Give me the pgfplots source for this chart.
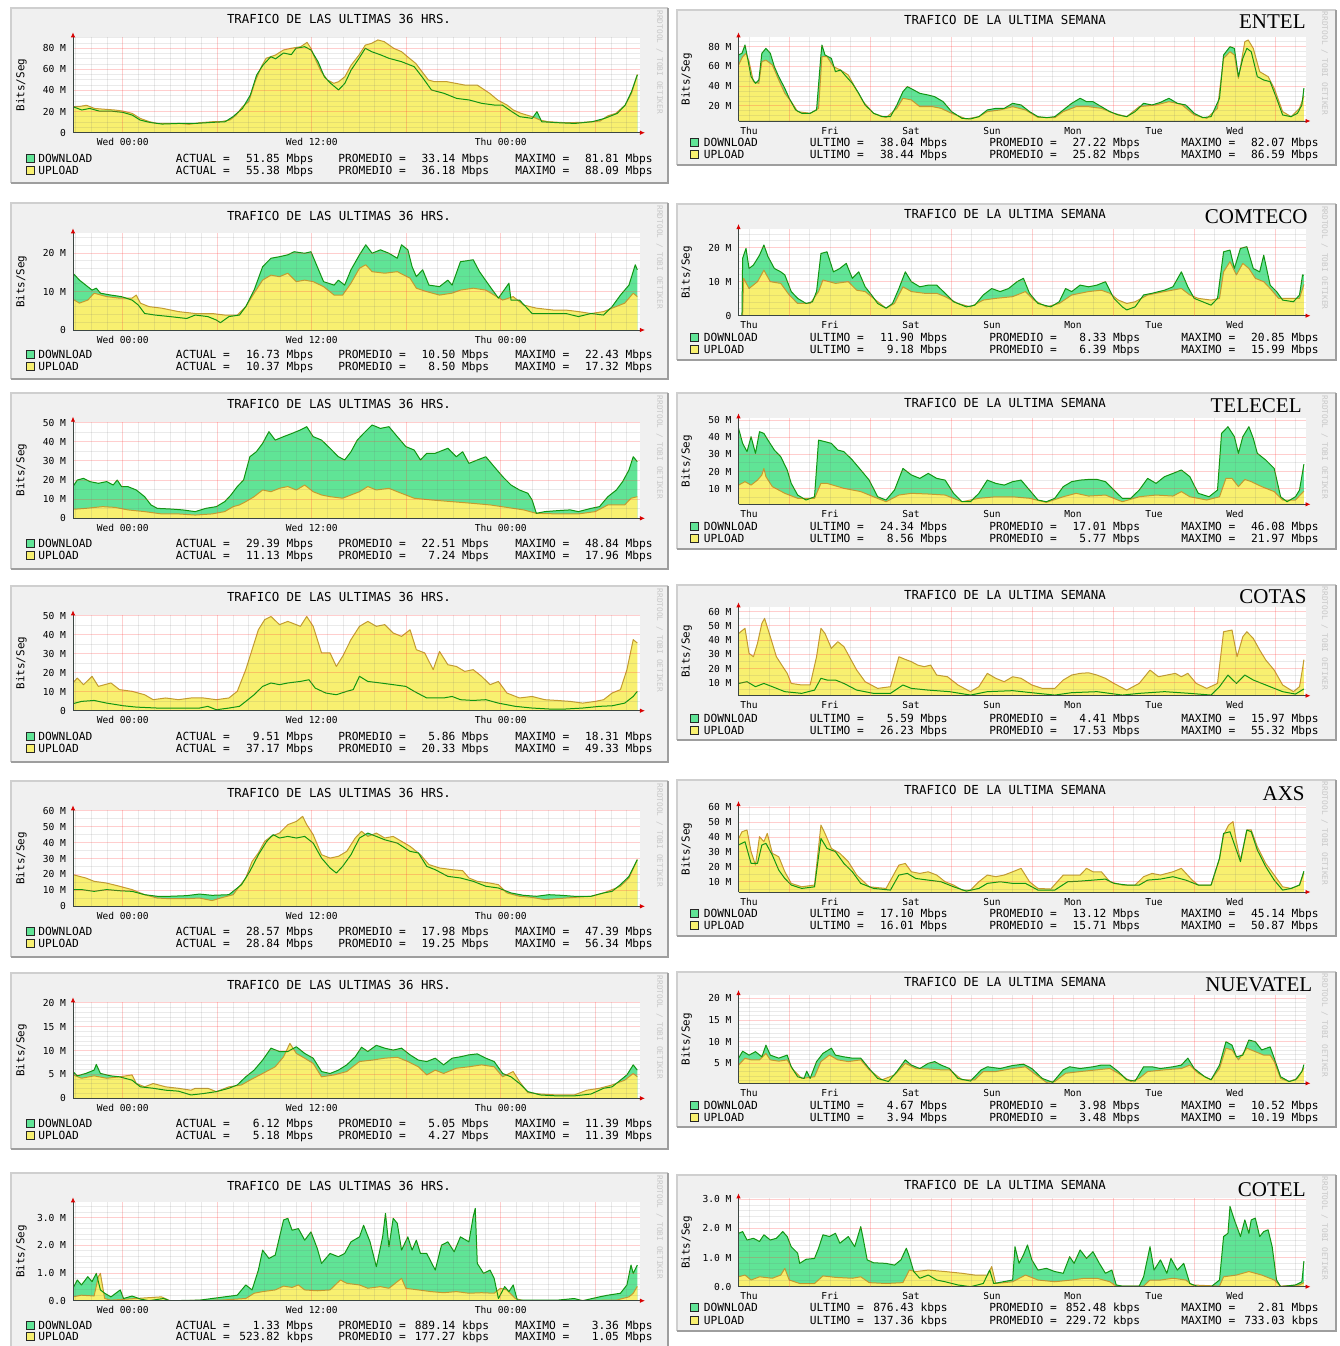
\documentclass[border=0pt]{standalone}
\usepackage{fontspec}
\usepackage{pgfplots}
\usepackage{pgfplotstable}
\pgfplotsset{compat=1.18}
\usetikzlibrary{arrows.meta}
\newfontfamily\mono{DejaVu Sans Mono}
\newfontfamily\tnr{Liberation Serif}
\newcommand\ftitle{\mono\fontsize{6.2}{7}\selectfont}
\newcommand\fleg{\mono\fontsize{5.6}{6.5}\selectfont}
\newcommand\ftick{\mono\fontsize{4.8}{5.5}\selectfont}
\newcommand\fylab{\mono\fontsize{5.45}{6}\selectfont}
\newcommand\fwm{\mono\fontsize{3.9}{4.5}\selectfont}
\newcommand\fname{\tnr\fontsize{10.5}{12}\selectfont}
\definecolor{dlarea}{RGB}{96,228,150}
\definecolor{dlline}{RGB}{16,150,16}
\definecolor{ularea}{RGB}{248,240,112}
\definecolor{ulline}{RGB}{196,156,48}
\definecolor{back}{RGB}{240,240,240}
\definecolor{shadea}{RGB}{207,207,207}
\definecolor{shadeb}{RGB}{158,158,158}
\definecolor{axiscol}{RGB}{60,70,66}
\definecolor{mgrid}{RGB}{255,60,60}
\definecolor{sgrid}{RGB}{110,110,110}
\definecolor{wmgray}{RGB}{200,200,200}

\pgfplotsset{
  rrd/.style={
    scale only axis, anchor=south west, width=283.5pt,
    axis lines=left, axis on top,
    axis line style={draw=axiscol, line width=0.4pt, shorten >=-2.5pt, -{Latex[length=2.5pt,width=2.2pt,color=red!85!black]}},
    axis background/.style={fill=white},
    enlargelimits=false,
    major tick length=0pt, minor tick length=0pt,
    grid=both,
    minor grid style={draw=sgrid, line width=0.5pt, opacity=0.14},
    major grid style={draw=mgrid, line width=0.5pt, opacity=0.25},
    tick label style={font=\ftick, inner sep=0pt, text height=3.5pt, text depth=0pt},
    yticklabel style={anchor=east, xshift=-3.3pt},
    xticklabel style={anchor=north, yshift=-2.8pt},
  },
  rrdL/.style={rrd, xmin=-3.16, xmax=32.84,
    xtick={0,6,12,18,24,30}, xticklabels={Wed 00:00,,Wed 12:00,,Thu 00:00,},
    minor xtick={-3,-2,-1,1,2,3,4,5,7,8,9,10,11,13,14,15,16,17,19,20,21,22,23,25,26,27,28,29,31,32}},
  rrdR/.style={rrd, xmin=8.875, xmax=176.875,
    xtick={12,36,60,84,108,132,156}, xticklabels={Thu,Fri,Sat,Sun,Mon,Tue,Wed},
    xmajorgrids=false,
    minor xtick={12,18,30,36,42,54,60,66,78,84,90,102,108,114,126,132,138,150,156,162,174},
    extra x ticks={24,48,72,96,120,144,168}, extra x tick labels={},
    extra x tick style={grid=major}},
}
\newcommand\rrdplot[2]{%
  \addplot[draw=none, fill=dlarea] table {#1} \closedcycle;
  \addplot[draw=none, fill=ularea] table {#2} \closedcycle;
  \addplot[ulline, line width=0.5pt, line join=round] table {#2};
  \addplot[dlline, line width=0.5pt, line join=round] table {#1};}

\tikzset{
  lg/.style={font=\fleg, inner sep=0pt, text height=4.08pt, text depth=0pt},
  lsq/.style={draw=black!85, line width=0.4pt, minimum size=4pt, inner sep=0pt},
}
\newcommand\legL[6]{%
  \node[lsq, fill=#2] at (30,#1) {};
  \node[lg, anchor=west] at (38,#1) {#3};
  \node[lg, anchor=west] at (175.5,#1) {ACTUAL =};
  \node[lg, anchor=east] at (314,#1) {#4};
  \node[lg, anchor=west] at (338,#1) {PROMEDIO =};
  \node[lg, anchor=east] at (489.5,#1) {#5};
  \node[lg, anchor=west] at (515,#1) {MAXIMO =};
  \node[lg, anchor=east] at (653,#1) {#6};}
\newcommand\legR[6]{%
  \node[lsq, fill=#2] at (694,#1) {};
  \node[lg, anchor=west] at (703.5,#1) {#3};
  \node[lg, anchor=west] at (809.5,#1) {ULTIMO =};
  \node[lg, anchor=east] at (948,#1) {#4};
  \node[lg, anchor=west] at (989,#1) {PROMEDIO =};
  \node[lg, anchor=east] at (1140.5,#1) {#5};
  \node[lg, anchor=west] at (1181,#1) {MAXIMO =};
  \node[lg, anchor=east] at (1319,#1) {#6};}
\newcommand\ttlL[1]{\node[font=\ftitle, inner sep=0pt, text height=4.52pt, text depth=0pt] at (339,#1) {TRAFICO DE LAS ULTIMAS 36 HRS.};}
\newcommand\ttlR[1]{\node[font=\ftitle, inner sep=0pt, text height=4.52pt, text depth=0pt] at (1005,#1) {TRAFICO DE LA ULTIMA SEMANA};}
\newcommand\ylab[2]{\node[font=\fylab, rotate=90, inner sep=0pt, text height=3.97pt, text depth=0pt] at (#1,#2) {Bits/Seg};}
\newcommand\wm[2]{\node[font=\fwm, text=wmgray, rotate=-90, anchor=west, inner sep=0pt, text height=2.84pt, text depth=0pt] at (#1,#2) {RRDTOOL / TOBI OETIKER};}
\newcommand\cname[3]{\node[font=\fname, anchor=east, inner sep=0pt, text height=6.95pt, text depth=0pt] at (#1,#2) {#3};}
\newcommand\panel[4]{%
  \fill[back] (#1,#2) rectangle (#3,#4);
  \draw[shadea, line width=1pt] (#1+0.5,#4-0.5) -- (#1+0.5,#2+0.5) -- (#3-0.5,#2+0.5);
  \draw[shadeb, line width=1pt] (#1+0.5,#4-0.5) -- (#3-0.5,#4-0.5) -- (#3-0.5,#2+0.5);}

% ---------------- data: hours, Mbit/s ----------------
\pgfplotstableread{
h v
-3.16 24.7
-2.6 21.5
-2.1 23
-1.5 20.5
-0.75 20.5
0 19.3
0.6 16.7
1.1 12
1.7 9.8
2.5 8.2
3.6 8.8
4.6 8.8
5.7 9.8
6.5 10.4
7 15.2
7.6 23
8.1 35.7
8.5 54.7
8.9 64
9.4 72
9.7 70
10.2 75.5
10.7 74
11 80
11.55 81.5
11.95 78.4
12.4 67.3
12.8 53
13.2 46.8
13.7 40.5
14.1 46.8
14.5 59.4
15 70.5
15.4 80
15.8 76.8
16.4 73.6
16.9 70.5
17.7 67.3
18.5 62.6
19 53
19.6 40.5
20.4 37.3
21.2 32.5
22 31
22.8 27.8
23.6 26.2
24.1 26.2
24.7 20
25.2 15.2
26 13.6
26.3 20
26.6 10.4
27.6 9.5
28.7 8.8
29.8 10.4
30.6 13.6
31.4 18.3
31.9 26.2
32.3 38.9
32.67 54.7
}\LaD
\pgfplotstableread{
h v
-3.16 24.7
-2.7 25
-2.3 26
-1.8 23
-1.3 22.4
-0.5 21.5
0 20.5
0.6 18.3
1.1 13.6
1.7 10.4
2.2 8.8
3 8.8
3.6 8.8
4.2 7.9
4.9 9.5
5.7 10.4
6.2 10.4
6.8 12
7.2 16.7
7.6 24.7
8 29.4
8.4 48.3
8.8 62.6
9.1 70.5
9.7 73.6
10.2 78.4
10.7 80
11.3 81.5
11.7 85.6
11.95 80
12.2 70.5
12.6 57.8
13 50
13.4 46.8
13.7 48.3
14.1 53
14.5 64
15 73.6
15.4 83
15.8 84.7
16.2 87.9
16.6 86.3
17.2 80
17.7 76.8
18.2 70.5
18.6 65.7
19 57.8
19.4 50
19.8 48.3
20.6 48.3
21.7 45.2
22.5 45.2
23.3 37.3
23.8 31
24.4 26.2
24.8 21.5
25.3 18.3
26 15.2
26.5 12
27 10.4
28.1 9.5
29.2 9.8
30.3 11
30.8 16
31.3 18.3
31.9 26.2
32.3 37.3
32.67 55.3
}\LaU
\pgfplotstableread{
h v
-3.16 14.8
-2.75 13
-2.35 11.7
-1.95 10.4
-1.68 10.9
-1.42 9.6
-0.75 9.1
-0.08 8.7
0.59 7.8
0.99 6.5
1.39 4.3
2.06 3.9
2.99 3.5
4.06 3
4.6 3.9
5.4 3.5
5.94 2.6
6.2 1.9
6.74 3.5
7.41 3.9
7.81 6.1
8.34 10.4
8.88 16.5
9.41 18.7
9.95 19.1
10.48 19.6
10.88 20.4
11.55 20
11.95 20.4
12.35 16.5
12.75 12.6
13.42 11.7
13.69 13
14.09 11.7
14.49 15.7
15.03 19.6
15.43 22.2
15.83 20
16.36 20.9
16.9 20
17.43 18.7
17.7 22.2
18.1 20.9
18.37 16.5
18.64 13.9
19.04 15.7
19.44 11.7
20.11 11.3
20.64 13
20.91 11.7
21.44 17.8
22.25 18.3
22.65 15.2
23.32 11.3
23.85 8.3
24.52 12.2
24.65 7.8
25.19 7.8
25.99 4.3
27.06 4.3
28.13 4.3
28.93 3.5
29.73 4.3
30.53 3.9
31.07 6.1
31.6 9.1
32.14 11.7
32.54 17
32.67 15.7
}\LbD
\pgfplotstableread{
h v
-3.16 8
-2.75 7
-2.22 7.8
-1.82 9.6
-1.02 8.7
-0.21 8.3
0.59 8.3
0.86 9.1
1.12 7
1.66 6.1
2.46 5.7
3.53 4.8
4.6 4.3
5.67 4.3
6.47 3.9
7.27 3.9
7.81 6.1
8.34 9.6
8.88 13
9.41 14.3
9.95 13.9
10.48 14.8
11.02 12.6
11.55 13
12.09 12.6
12.75 11.3
13.42 9.1
13.96 9.1
14.49 12.2
15.03 16.1
15.43 17
15.83 15.2
16.63 14.8
17.43 15.2
18.24 13.5
18.64 10.9
19.3 10
20.11 9.1
20.91 9.6
21.44 10.4
22.25 10.9
23.05 10.4
23.58 9.1
24.12 7.8
24.79 8.7
25.45 6.5
26.26 5.7
27.33 5.2
28.13 5.2
28.93 4.8
29.73 4.3
30.53 4.8
31.07 5.7
31.87 7
32.41 9.6
32.67 8.7
}\LbU
\pgfplotstableread{
h v
-3.16 16.6
-2.89 20
-2.49 20.9
-2.09 19.2
-1.55 18.3
-1.02 19.2
-0.61 17.4
-0.35 20
-0.08 16.6
0.32 16.6
0.86 14.8
1.39 11.3
1.79 7
2.19 5.2
2.99 4.9
3.8 4.4
4.6 3.5
5.27 5.2
5.94 6.1
6.47 8.7
6.87 12.2
7.27 16.6
7.67 20
8.07 32.2
8.48 34.8
8.88 39.2
9.28 45.3
9.68 40.9
10.21 42.7
10.75 44.4
11.28 46.2
11.68 47.9
12.09 42.7
12.62 40.9
13.16 36.6
13.69 32.2
14.09 30.5
14.49 34.8
14.89 40.9
15.29 44.4
15.83 48.8
16.36 47
16.9 47.9
17.43 42.7
17.97 37.5
18.5 35.7
18.9 30.5
19.3 34
19.84 34
20.64 36.6
21.18 32.2
21.58 34.8
21.98 28.7
22.51 30.5
23.05 32.2
23.58 27
24.12 21.8
24.65 17.4
25.19 14.8
25.72 13.1
25.99 9.6
26.26 2.6
26.79 3.5
27.59 4
28.4 4.4
28.93 3.5
29.73 5.2
30.27 6.1
30.8 11.3
31.34 14.8
31.74 19.2
32.14 25.3
32.41 32.2
32.67 29.6
}\LcD
\pgfplotstableread{
h v
-3.16 4.7
-2.35 5.2
-1.28 6.1
-0.48 5.7
0.32 4.4
1.39 3.5
2.46 2.3
3.53 2.3
4.6 1.7
5.67 2.3
6.47 3.5
7.01 6.1
7.41 7
7.81 8.7
8.34 11.3
8.88 14.8
9.41 13.9
9.95 15.7
10.48 16.6
11.02 14.8
11.55 17.4
12.09 13.9
12.62 12.2
13.16 11.3
13.96 10.5
14.49 12.2
15.03 13.9
15.56 16.6
16.1 14.8
16.9 15.7
17.43 13.9
17.97 12.2
18.5 10.5
19.57 9.6
20.91 8.7
22.25 7.8
23.32 7
24.39 5.7
25.45 4.4
26.26 2.6
27.59 2.3
28.93 2.3
30 3.5
30.8 7
31.34 7
31.87 7
32.27 10.5
32.67 11.3
}\LcU
\pgfplotstableread{
h v
-3.16 3.7
-2.62 4.9
-1.82 5.4
-1.02 4
0.05 2.6
0.86 1.9
2.19 1.4
3.53 1.4
4.87 1.4
5.4 2.3
5.94 0.5
6.74 1.4
7.41 2.3
7.81 4.9
8.34 8.4
8.88 12.8
9.41 14.6
9.95 13.7
10.48 14.6
11.28 15.4
11.82 16.3
12.22 11.9
12.89 9.3
13.56 8.4
14.22 10.2
14.63 11.1
15.03 18.1
15.56 15.4
16.36 14.6
17.17 13.7
17.97 12.8
18.5 10.2
19.3 6.7
20.37 6.7
20.91 7.5
21.44 5.8
22.25 5.4
23.05 5.8
23.85 4
24.92 2.3
25.99 1.4
27.06 0.9
28.13 0.9
29.2 1.4
30.27 2.3
31.07 2.6
31.87 4
32.41 7.5
32.67 10.2
}\LdD
\pgfplotstableread{
h v
-3.16 14.6
-2.89 17.2
-2.49 13.7
-1.95 18.1
-1.55 12.8
-0.75 14.6
-0.21 11.1
0.59 10.2
1.39 8.4
1.93 5.8
2.73 6.7
3.53 5.8
4.33 6.7
5.13 6.7
5.94 5.8
6.74 6.7
7.27 10.2
7.81 21.6
8.21 32.1
8.61 42.6
9.01 47.9
9.41 49.6
9.95 45.3
10.48 47
11.28 44.4
11.68 49.6
12.09 44.4
12.62 30.4
13.16 30.4
13.56 23.3
13.96 28.6
14.49 37.4
15.03 44.4
15.56 47
16.1 44.4
16.63 45.3
17.17 40.9
17.7 39.1
18.24 42.6
18.64 32.1
19.17 30.4
19.71 21.6
20.11 31.2
20.64 24.2
21.18 23.3
21.71 20.7
22.25 21.6
22.78 18.1
23.32 13.7
23.85 15.4
24.39 9.3
25.19 6.7
25.99 7.5
26.79 5.8
27.59 5.4
28.4 4.9
29.2 4
30 4.9
30.53 5.8
31.07 9.3
31.6 11.1
32.01 21.6
32.41 37.4
32.67 35.6
}\LdU
\pgfplotstableread{
h v
-3.16 10.5
-2.62 10.5
-1.82 9.4
-1.02 10.5
-0.21 9.8
0.59 9.4
1.39 7.3
2.19 6.3
2.99 6.3
4.06 6.7
4.87 7.7
5.67 6.9
6.74 7.3
7.54 13.6
8.07 22
8.61 32.4
9.14 40.8
9.55 45
9.95 42.9
10.48 43.9
11.02 42.9
11.55 43.9
12.09 39.7
12.62 30.3
13.16 24.1
13.56 20.9
13.96 25.1
14.49 32.4
15.03 42.9
15.56 46
16.1 43.9
16.63 41.8
17.43 39.7
18.24 34.5
18.77 33.5
19.3 25.1
19.84 23
20.64 18.8
21.44 17.8
22.25 15.7
23.05 12.6
23.85 11.5
24.65 8.4
25.45 6.9
26.26 6.3
27.06 7.3
27.86 6.9
28.66 6.3
29.73 6.3
30.53 8.4
31.07 9.4
31.6 13.6
32.14 18.8
32.67 29.3
}\LeD
\pgfplotstableread{
h v
-3.16 19.9
-2.75 18.8
-2.35 17.8
-1.82 15.7
-1.02 14.6
-0.21 12.6
0.59 10.5
1.39 7.3
2.19 5.2
2.99 4.8
4.06 4.8
4.87 5.2
5.67 3.6
6.2 5.2
7.01 7.3
7.41 12.6
7.81 17.8
8.21 28.2
8.61 33.5
9.01 40.8
9.41 43.9
9.95 46
10.48 51.3
11.02 53.3
11.42 56.5
11.68 51.3
12.09 45
12.62 32.4
13.16 30.3
13.69 31.4
14.22 34.5
14.76 42.9
15.16 47.1
15.56 43.9
16.1 46
16.63 42.9
17.17 43.9
17.7 40.8
18.24 37.7
18.9 32.4
19.44 26.2
20.11 24.1
20.91 23
21.58 22.4
21.98 17.8
22.51 15.7
23.32 14.6
23.85 13.6
24.39 8.4
25.19 6.3
25.99 5.6
26.79 4.2
27.59 4.8
28.66 5.6
29.73 6.3
30.53 8.4
31.07 10.5
31.6 12.6
32.14 17.8
32.67 29.3
}\LeU
\pgfplotstableread{
h v
-3.16 5.6
-2.89 4.7
-2.35 5.2
-1.82 5.9
-1.68 7.1
-1.42 5.2
-0.75 4.7
-0.21 4.5
0.59 3.8
1.12 2.4
1.93 2.1
2.73 1.7
3.53 1.5
4.33 0.7
5.13 1
5.94 1.4
6.74 2.1
7.27 2.8
7.81 4.5
8.34 5.9
8.88 8
9.41 10.5
9.95 9.8
10.48 9.8
11.02 10.8
11.55 9.4
12.09 8.4
12.62 5.6
13.16 5.2
13.69 5.9
14.22 7
14.76 8.7
15.16 10.7
15.56 9.8
16.1 11.1
16.63 10.5
17.17 10.1
17.7 10.5
18.24 9.1
18.77 8
19.3 7.7
19.84 8.4
20.37 7
20.91 8.4
21.44 8.7
21.98 9.1
22.51 9.3
23.05 8.4
23.58 7.7
24.12 5.2
24.65 4.5
25.19 3.1
25.72 1.4
26.52 0.7
27.59 0.5
28.66 0.5
29.73 0.9
30.53 2.1
31.07 2.4
31.6 3.8
32.01 4.9
32.41 7
32.67 5.9
}\LfD
\pgfplotstableread{
h v
-3.16 4.9
-2.62 4.2
-1.82 4.7
-1.02 4.2
-0.21 4.5
0.59 4.9
0.86 3.1
1.39 2.4
1.93 3.1
2.73 2.4
3.53 2.1
4.33 1.7
4.6 2.1
5.4 2.1
5.94 1.4
6.74 2.4
7.54 2.8
8.07 3.8
8.88 5.2
9.68 6.6
10.21 8.7
10.61 11.5
11.02 9.4
11.55 8.4
12.09 7.3
12.62 4.5
13.42 4.9
14.22 5.6
15.03 7.7
15.83 8
16.63 8.4
17.43 8.6
18.1 7.7
18.77 6.6
19.3 4.9
19.84 5.9
20.37 5.2
21.18 6.3
21.98 6.6
22.78 7
23.58 6.6
24.12 4.5
24.79 5.6
25.19 3.5
25.72 1.2
26.52 0.9
27.59 0.7
28.66 0.7
29.47 1.7
30.27 2.1
31.07 2.8
31.87 3.8
32.41 5.2
32.67 4.5
}\LfU
\pgfplotstableread{
h v
-3.16 0.45
-2.89 0.75
-2.62 0.57
-2.22 0.87
-1.95 0.69
-1.68 0.99
-1.42 0.39
-1.15 0.27
-0.75 0.14
-0.16 0.39
0.05 0.08
0.59 0.17
1.12 0.06
1.66 0
2.59 0.08
2.99 0
4.87 0.02
5.67 0.08
6.47 0.14
7.27 0.2
7.81 0.57
8.21 0.39
8.61 1.11
8.88 1.83
9.28 1.53
9.68 1.65
10.21 2.92
10.48 2.98
10.75 2.55
11.15 2.61
11.55 2.19
11.95 2.49
12.35 1.89
12.62 1.35
13.16 1.71
13.69 1.59
14.09 1.71
14.49 2.13
15.03 2.31
15.29 2.73
15.7 2.13
16.1 1.23
16.5 2.31
16.68 3.16
16.9 1.95
17.17 2.98
17.43 2.8
17.7 1.83
18.1 2.31
18.37 1.83
18.64 2.19
18.9 1.71
19.3 1.71
19.84 1.11
20.24 2.01
20.64 2.13
21.04 1.77
21.44 2.31
21.98 2.13
22.25 3.04
22.38 3.34
22.51 1.35
22.91 0.99
23.32 1.11
23.58 0.81
23.85 0.08
24.25 0.51
24.52 0.33
24.79 0.57
25.05 0.02
27.59 0.02
28.66 0.08
29.2 0
30.27 0.14
30.8 0.2
31.6 0.27
32.01 0.57
32.27 1.29
32.41 0.99
32.67 1.29
}\LgD
\pgfplotstableread{
h v
-3.16 0.14
-2.62 0.2
-1.82 0.17
-1.55 0.87
-1.42 0.99
-1.15 0.08
-0.75 0.02
2.46 0.14
2.99 0
6.2 0.02
7.81 0.08
8.34 0.27
8.88 0.33
9.68 0.39
10.21 0.53
10.75 0.48
11.15 0.57
11.55 0.39
12.35 0.36
13.16 0.39
13.82 0.75
14.22 0.63
15.03 0.57
15.56 0.45
16.36 0.51
16.9 0.45
17.7 0.81
17.97 0.45
18.77 0.39
19.57 0.33
20.37 0.29
21.18 0.33
21.98 0.27
22.78 0.29
23.58 0.27
23.98 0.45
24.39 0.39
24.92 0.08
25.45 0
31.34 0.02
32.14 0.14
32.41 0.27
32.67 0.52
}\LgU
% ---- right column (hours since Thu 00:00) ----
\pgfplotstableread{
h v
8.9 71.6
9.9 73.3
10.8 81.7
11.4 71.6
12.6 49.7
13.9 42.9
14.9 46.3
15.8 73.3
17 78.3
18.3 73.3
19.5 59.8
20.8 49.7
22.6 37.9
23.9 27.8
25.8 16
27.6 12.6
30.1 12.6
32 16
33.3 71.6
33.6 81.7
34.5 71.6
36.4 68.2
37.6 54.7
39.1 56.4
40.8 49.7
42.6 42.9
44.5 32.8
46.4 21
48.9 12.6
51.4 9.2
53.9 9.2
55.8 21
57.6 34.5
58.9 39.6
60.8 36.2
62.6 32.8
65.1 31.1
67 29.4
69.5 24.4
72 14.3
75.1 7.5
77.6 6.9
80.1 9.2
82.6 16
85.1 17.6
87.6 17.6
90.1 22.7
92.6 21
95.1 14.3
97.6 9.2
100.1 8.2
102.6 9.2
105.1 16
107.6 22.7
110.1 27.8
112 24.4
113.9 24.4
116.4 19.3
118.9 14.3
121.4 10.9
123.9 9.2
126.4 14.3
128.9 22.7
131.4 21
133.9 23.7
136.4 27.8
138.9 22.7
141.4 21
143.9 12.6
146.4 8.2
148.9 9.2
151.4 27.8
152.6 71.6
154.5 80
155.8 78.3
157 49.7
158.3 68.2
159.5 78.3
160.8 74.9
162.6 49.7
164.5 46.3
166.4 44.6
168.3 27.8
170.1 10.9
172.6 9.2
174.5 12.6
175.8 21
176.4 38
}\RaD
\pgfplotstableread{
h v
8.9 61.5
10.1 69.9
11.1 73.3
12 64.9
13.3 44.6
14.9 42.9
15.8 64.9
17 66.5
18.9 61.5
20.8 46.3
22.6 32.8
24.5 24.4
26.4 14.3
30.1 12.6
32.6 17.6
33.6 69.9
35.1 69.9
37 59.8
39.1 56.4
41.4 51.4
43.3 39.6
45.8 24.4
48.9 12.6
52.6 8.2
55.8 17.6
57.6 27.8
60.1 26.1
62.6 19.3
66.4 19.3
68.9 17.6
72 12.6
76.4 6.9
80.1 9.2
82.6 14.3
86.4 16
90.1 19.3
93.9 16
97.6 8.5
102.6 8.2
105.1 14.3
108.9 19.3
112.6 19.3
116.4 17.6
120.1 12.6
123.9 9.2
127.6 19.3
132.6 21
136.4 24.4
140.1 21.7
143.9 10.9
147.6 7.5
150.8 17.6
152.6 68.2
154.5 74.9
155.8 71.6
157 48
158.9 85.1
159.9 86.8
161.4 78.3
163.3 54.7
165.8 49.7
167.6 37.9
170.1 14.3
172.6 9.2
175.1 17.6
176.4 30
}\RaU
\pgfplotstableread{
h v
8.9 0
9.9 0
10.1 16.9
11.1 19.8
12 13.9
13.3 14.9
15.1 17.8
16.4 20.8
17.6 17.4
19.5 13.9
21.4 12.9
22.6 12
24.5 7.1
26.4 5.1
28.9 3.6
30.8 4.1
32 7.1
33.3 18.3
35.1 18.8
37 12.9
38.9 13.9
40.8 15.4
42.6 11
44.5 12.9
46.4 8.5
48.3 6.1
50.1 3.6
52.6 2.2
54.5 3.6
56.4 8
58.3 12.9
60.1 10
62.6 8.5
65.1 9
67.6 9
70.1 6.6
72.6 4.1
76.4 2.6
78.9 3.1
81.4 6.1
83.9 8
86.4 7.1
88.9 8
91.4 10
93.3 11
95.1 6.6
97.6 3.6
101.4 2.6
103.9 4.1
105.8 8
107.6 7.1
110.1 9
112.6 8.5
115.1 9
117.6 10
120.1 5.1
122.6 2.6
123.9 1.7
126.4 2.6
128.9 6.1
131.4 6.6
135.1 7.5
137.6 8.5
140.1 12.9
142 8.5
143.9 5.1
146.4 4.1
148.9 3.1
150.8 5.1
152.6 18.8
154.5 19.3
155.8 13.9
157.6 19.8
159.5 20.3
161.4 13.9
163.3 12.9
164.5 17.8
166.4 9
168.3 7.1
170.1 4.6
173.3 4.1
175.1 6.1
176 12
176.4 11.9
}\RbD
\pgfplotstableread{
h v
8.9 0
10.1 0
10.4 11
12 8
14.5 10
16.4 13.4
18.3 10
21.4 9.5
23.9 6.1
26.4 3.6
30.1 3.6
32.6 7.1
33.9 10.5
37.6 9.5
41.4 10
43.9 7.5
46.4 7.1
48.9 5.1
52.6 2.2
55.1 3.6
57.6 8.5
60.1 7.1
63.9 6.6
67.6 6.6
70.1 5.6
73.9 3.6
77.6 2.6
81.4 4.6
85.1 5.1
90.1 5.6
93.9 7.1
96.4 4.6
100.1 2.6
103.9 3.6
107.6 6.1
112.6 7.1
116.4 7.5
118.9 6.6
121.4 4.6
123.9 3.6
126.4 4.1
130.1 6.1
135.1 7.1
140.1 8
142.6 6.1
145.1 5.1
148.9 4.6
151.4 5.1
152.6 12.9
154.5 15.9
156.4 12
158.3 15.4
160.1 13.9
162 11
164.5 10
166.4 8
168.9 5.1
172.6 5.1
175.1 5.1
176.4 9.2
}\RbU
\pgfplotstableread{
h v
8.9 45.1
10.1 36.4
11.4 31.6
12.6 40.3
13.9 30.6
15.1 43.2
16.4 42.2
17.6 38.3
19.5 32.5
21.4 28.6
23.3 20.9
24.5 13.1
26.4 6.3
28.9 3.4
31.4 5.3
32.6 38.3
34.5 37.4
36.4 36.4
38.3 32.5
40.1 31.6
42.6 26.7
45.1 20.9
47.6 15
50.1 5.3
52.6 3.4
55.1 9.2
57.6 21.8
60.1 18
62.6 16
65.1 18.9
67.6 16
70.1 15
72.6 7.3
75.1 2.4
77.6 2.4
80.1 7.3
82.6 15
85.1 13.1
87.6 12.1
90.1 14.1
92.6 15
95.1 9.2
97.6 3.4
100.1 2.4
102.6 4.4
105.1 11.2
107.6 14.1
110.1 15
112.6 15.4
115.1 15.4
117.6 14.1
120.1 9.2
122.6 4.4
125.1 4.4
127.6 9.2
130.1 16
132.6 13.1
135.1 17
137.6 18.9
140.1 20.9
142.6 17
145.1 7.3
148.3 5.3
150.8 9.2
152 42.2
153.9 46.1
155.8 40.3
157 30.6
158.3 40.3
160.1 46.1
161.4 39.3
162.6 30.6
165.1 26.7
167.6 21.8
169.5 5.3
171.4 2.4
173.9 5.3
175.1 9.2
176.4 24.3
}\RcD
\pgfplotstableread{
h v
8.9 12.1
10.8 14.1
12.6 12.1
14.5 15
15.8 18
16.4 21.8
17 17
18.9 11.2
22.6 7.3
26.4 4.4
31.4 4.4
33.3 13.1
35.1 13.1
40.1 10.2
45.1 8.3
48.9 5.3
52.6 2.4
56.4 6.3
60.1 7.3
65.1 6.9
70.1 6.3
75.1 2.4
80.1 4.4
85.1 5.3
90.1 5.3
95.1 4.4
100.1 2
105.1 5.3
108.9 7.3
112.6 5.7
117.6 6.3
122.6 2.4
127.6 5.3
132.6 6.3
137.6 5.7
140.1 8.3
142.6 5.3
147.6 3.4
151.4 5.3
153.3 16
155.1 16
157 11.2
158.9 15.4
160.8 14.1
163.9 11.2
167.6 8.3
170.1 3.4
173.9 3.4
176.4 8.6
}\RcU
\pgfplotstableread{
h v
8.9 9.5
11.4 10.7
13.9 7.2
16.4 9.5
18.9 7.2
22.6 3.7
27.6 2.5
31.4 4.8
33.3 13.1
35.1 11.9
37.6 11.9
40.1 9.5
43.9 4.8
48.9 2.5
53.9 2.5
57.6 8.4
60.1 6
65.1 4.8
71.4 3.7
77.6 1.3
82.6 3.7
90.1 4.4
97.6 2.5
102.6 1.3
107.6 3
115.1 3.7
122.6 1.3
127.6 2.5
135.1 3.7
142.6 2.5
148.9 1.3
151.4 7.2
153.9 15.4
156.4 9.5
158.9 15.4
161.4 11.9
165.1 8.4
170.1 3.7
173.9 2
176.4 5.6
}\RdD
\pgfplotstableread{
h v
8.9 44.7
10.8 48.3
12 30.7
13.3 28.3
14.5 37.7
15.8 51.8
16.6 55.3
18.3 42.4
20.1 28.3
22 21.3
23.3 16.6
24.5 9.5
27.6 8.4
30.1 8.4
32 28.3
33.3 48.3
34.5 44.7
36.4 34.2
38.3 38.9
40.1 35.4
42 27.1
43.9 18.9
46.4 10.7
50.1 6
53.9 7.2
56.4 28.3
58.3 26.4
60.1 24.8
62 22.4
63.9 21.3
65.8 22.4
67.6 15.4
70.8 14.2
73.9 8.4
77.6 3.7
80.1 7.2
82.6 16.6
85.1 13.1
87.6 10.7
90.1 14.2
92.6 13.1
95.8 8.4
98.9 6
102.6 6
105.1 11.9
107.6 15.4
110.1 16.6
112.6 17
115.1 15.4
117.6 13.1
120.1 9.5
123.9 4.8
127.6 9.5
130.8 18.9
133.3 14.2
135.8 15.4
138.3 16.6
140.1 14.2
142 16.6
144.5 9.5
147.6 6
150.8 9.5
152.6 45.9
155.1 47.1
156.6 28.3
158.3 42.4
159.5 45.9
161.4 41.2
163.3 33
165.1 26
167.6 18.9
170.1 8.4
173.3 3.7
175.1 7.2
176 20
176.4 26.2
}\RdU
\pgfplotstableread{
h v
8.9 34.7
10.8 36.9
12.6 22.3
14.5 22.3
15.8 34.7
17 35.8
18.9 27.9
20.8 17.8
22.6 12.2
24.5 7.8
27.6 5.5
31.4 6.6
33.3 39.1
35.1 32.4
37.6 30.2
40.1 22.3
42.6 16.7
45.1 8.9
48.9 5.5
53.9 4.4
56.4 14.5
58.9 15.6
61.4 12.2
65.1 11.1
68.9 10
72.6 6.6
76.4 3.7
80.1 5.5
82.6 8.9
86.4 10
90.1 8.9
93.9 8.9
97.6 4.4
102.6 4.4
106.4 10
110.1 10.4
113.9 11.1
117.6 11.8
120.1 8.9
123.9 7.8
127.6 7.8
130.1 11.1
133.9 11.8
137.6 13.4
141.4 11.1
145.1 7.8
148.9 7.8
151.4 25.7
152.6 42.5
154.5 43.6
156.4 31.3
157.6 23.5
159.5 44.8
160.8 43.6
162.6 31.3
165.1 20.1
167.6 11.1
170.1 4.4
172.6 5.5
175.1 7.8
176.4 17.1
}\ReD
\pgfplotstableread{
h v
8.9 39.1
9.9 43.6
11.4 44.8
12.6 30.2
13.9 21.2
15.1 40.3
16.4 36.9
17.4 42.5
18.9 29.1
20.8 26.8
22.6 16.7
24.5 8.9
27.6 6.6
31.4 7.8
33.3 48.1
34.5 42.5
36.4 32.4
38.9 29.1
41.4 23.5
43.9 14.5
47.6 6.6
52.6 5.5
56.4 21.2
58.3 22.3
60.1 16.7
62.6 15.6
65.1 16.7
67.6 14.5
70.1 10
72.6 7.8
75.1 4.4
77.6 4.4
80.1 10
82.6 14.5
85.1 13.4
87.6 14.5
90.1 16.7
92.6 19
95.1 10
97.6 5.5
101.4 5.1
105.1 14.5
108.3 14.5
110.1 14.5
112 19
113.9 16.7
116.4 16.7
118.9 10
122.6 7.8
126.4 7.8
128.9 13.4
131.4 15.6
133.9 14.5
137.6 16.7
140.1 19
143.3 11.1
145.1 7.8
148.9 7.8
151.4 25.7
152.6 41.4
154.1 48.1
155.4 50.4
156.4 36.9
157.6 24.6
159.5 44.8
160.8 44.8
162.6 33.5
165.1 22.3
167.6 14.5
170.1 6.6
172.6 5.5
175.1 7.8
176.4 16
}\ReU
\pgfplotstableread{
h v
8.9 6.2
10.1 7.8
12 6.9
13.9 7.7
15.8 6.5
17 9.2
18.3 6.9
20.8 6.2
23.3 6.9
24.5 4.2
26.4 1.9
28.3 1.5
29.1 3.2
30.1 1.5
32 5.4
33.9 7.3
36.4 8.5
37.6 6.9
40.1 6.5
42.6 6.2
45.1 6.2
47.6 3.8
50.1 1.5
53.3 0.8
55.8 3.1
58.3 5.8
60.1 4.6
62.6 3.8
65.1 5
67 5.4
68.9 4.6
71.4 3.8
73.9 1.5
77.6 0.9
80.8 3.5
82.6 4.2
86.4 3.8
90.1 4.5
93.3 4.8
95.8 3.8
98.9 1.5
102 0.6
105.1 3.5
107 4.2
110.1 3.8
113.9 4.2
116.4 4.6
118.9 4.6
121.4 3.1
123.9 1.2
126.4 0.9
128.9 4.2
131.4 4.2
133.9 3.8
137.6 4.2
140.1 4.6
142 6.2
143.9 3.8
147 1.9
148.9 1.2
151.4 4.6
153.3 10
155.1 9.2
156.4 6.5
158.3 6.9
160.1 10.4
162 10
163.9 8.1
166.4 8.8
167.6 6.2
169.5 1.9
172 0.8
173.9 1.2
175.8 3.1
176.4 4.7
}\RfD
\pgfplotstableread{
h v
8.9 4.6
10.8 6.2
12.6 5.8
15.1 5.8
17 7.3
18.3 5.8
20.8 5.5
23.3 5.8
25.1 3.5
27.6 1.5
31.4 1.9
33.3 5.4
35.8 6.9
38.3 5.8
41.4 5.4
45.1 5.8
47.6 3.5
51.4 1.2
55.1 2.3
58.3 5
61.4 3.8
65.1 3.7
68.9 3.5
71.4 3.5
75.1 1.2
78.9 1.2
81.4 3.1
85.1 3.1
90.1 3.8
93.9 4.2
96.4 2.7
100.1 0.6
102.6 0.8
105.8 2.7
110.1 3.1
115.1 3.5
118.9 3.8
121.4 2.7
125.1 0.8
127.6 1.5
130.1 3.1
135.1 3.5
140.1 3.8
142.6 4.6
145.1 2.7
148.9 1.2
151.4 3.8
153.3 8.5
155.1 8.1
157 5.8
159.5 8.5
162 7.7
164.5 6.9
166.4 6.9
167.6 5.4
169.5 1.5
172 0.8
174.5 1.5
176.4 3.9
}\RfU
\pgfplotstableread{
h v
8.9 1.83
10.1 1.89
11.4 1.6
13.3 1.66
15.1 1.55
16.4 1.78
18.3 1.6
20.1 1.66
22 1.89
23.3 1.72
24.5 1.37
26.4 1.15
27 0.8
28.9 0.94
31.4 0.97
32.6 1.32
33.9 1.78
35.8 1.72
37.6 1.83
38.9 1.49
41.4 1.72
43.3 1.37
45.1 2.06
45.8 1.66
47 0.92
48.9 0.82
52.6 0.8
55.1 0.74
57 0.92
58.6 1.32
59.5 1.03
60.8 0.52
62.6 0.29
65.1 0.4
67.6 0.23
70.1 0.17
73.9 0.06
77.6 0
81.4 0.11
83.3 0.57
84.5 0.11
90.1 0.23
90.8 1.37
92 0.8
93.3 1.09
94.5 1.43
95.8 0.92
97.6 0.57
100.1 0.63
102.6 0.52
105.1 0.46
107 1.03
108.3 0.8
110.1 1.26
112 0.97
113.9 1.2
115.8 0.8
117.6 0.46
119.5 0.57
120.8 0.06
122.6 0.02
127.6 0.02
128.9 0.34
130.8 1.37
132 0.57
133.9 0.92
135.8 0.46
137 0.97
138.9 0.57
140.8 0.8
142.6 0.11
145.1 0
148.9 0
151.4 0.23
152.6 1.72
153.9 1.83
154.5 2.75
155.8 2.29
157.6 1.72
158.9 2.29
160.1 1.83
160.8 2.29
162 2.35
163.3 1.72
164.5 1.89
165.8 1.95
167 1.37
168.3 0.23
169.5 0
173.9 0.06
175.8 0.17
176.1 0.5
176.4 0.88
}\RgD
\pgfplotstableread{
h v
8.9 0.34
10.8 0.4
12.6 0.23
15.1 0.34
18.9 0.29
21.4 0.4
22.6 0.63
23.9 0.23
27 0.11
31.4 0.11
33.9 0.37
37.6 0.32
42.6 0.29
45.1 0.34
47.6 0.14
52.6 0.11
57.6 0.14
59.5 0.57
61.4 0.52
65.1 0.57
70.1 0.52
75.1 0.46
78.9 0.4
82.6 0.4
83.9 0.69
85.1 0.11
90.1 0.17
93.9 0.4
97.6 0.23
102.6 0.17
107.6 0.23
111.4 0.29
115.1 0.29
118.9 0.17
120.8 0.02
128.9 0.02
130.8 0.23
133.9 0.23
137.6 0.29
141.4 0.23
143.3 0.06
151.4 0.02
152.6 0.34
156.4 0.4
160.1 0.52
163.9 0.4
167.6 0.23
169.5 0.02
175.1 0.06
176.4 0.14
}\RgU

\begin{document}
\begin{tikzpicture}
\path[use as bounding box] (0,0) rectangle (670pt,-673pt);
\fill[white] (0,0) rectangle (670pt,-673pt);
\begin{scope}[x=0.5pt,y=-0.5pt]
\panel{10}{7.7}{668}{183}
\panel{10}{202.7}{668}{379}
\panel{10}{392.7}{668}{569}
\panel{10}{585.7}{668}{762}
\panel{10}{780.7}{668}{957}
\panel{10}{972.7}{668}{1149}
\panel{10}{1172.7}{668}{1350}
\panel{676}{9}{1336}{165}
\panel{676}{203.3}{1336}{360}
\panel{676}{392.7}{1336}{549.3}
\panel{676}{584}{1336}{740}
\panel{676}{779}{1336}{936}
\panel{676}{971}{1336}{1127.3}
\panel{676}{1174}{1336}{1331}
\end{scope}

% ---------------- left column ----------------
\begin{axis}[rrdL, at={(36.5pt,-66.35pt)}, height=47.7pt, ymin=0, ymax=90.4,
  ytick={0,20,40,60,80}, yticklabels={0,20 M,40 M,60 M,80 M}, minor ytick={5,10,15,25,30,35,45,50,55,65,70,75,85,90}]
\rrdplot{\LaD}{\LaU}
\end{axis}
\begin{axis}[rrdL, at={(36.5pt,-165pt)}, height=48.35pt, ymin=0, ymax=25.2,
  ytick={0,10,20}, yticklabels={0,10 M,20 M}, minor ytick={2,4,6,8,12,14,16,18,22,24}]
\rrdplot{\LbD}{\LbU}
\end{axis}
\begin{axis}[rrdL, at={(36.5pt,-259.15pt)}, height=48.3pt, ymin=0, ymax=50.5,
  ytick={0,10,20,30,40,50}, yticklabels={0,10 M,20 M,30 M,40 M,50 M}, minor ytick={5,15,25,35,45}]
\rrdplot{\LcD}{\LcU}
\end{axis}
\begin{axis}[rrdL, at={(36.5pt,-355.35pt)}, height=47.7pt, ymin=0, ymax=50.2,
  ytick={0,10,20,30,40,50}, yticklabels={0,10 M,20 M,30 M,40 M,50 M}, minor ytick={5,15,25,35,45}]
\rrdplot{\LdD}{\LdU}
\end{axis}
\begin{axis}[rrdL, at={(36.5pt,-453.15pt)}, height=48pt, ymin=0, ymax=60.3,
  ytick={0,10,20,30,40,50,60}, yticklabels={0,10 M,20 M,30 M,40 M,50 M,60 M}, minor ytick={5,15,25,35,45,55}]
\rrdplot{\LeD}{\LeU}
\end{axis}
\begin{axis}[rrdL, at={(36.5pt,-549.15pt)}, height=48pt, ymin=0, ymax=20.1,
  ytick={0,5,10,15,20}, yticklabels={0,5 M,10 M,15 M,20 M}, minor ytick={1,2,3,4,6,7,8,9,11,12,13,14,16,17,18,19}]
\rrdplot{\LfD}{\LfU}
\end{axis}
\begin{axis}[rrdL, at={(36.5pt,-650.35pt)}, height=49.2pt, ymin=0, ymax=3.56,
  ytick={0,1,2,3}, yticklabels={0.0,1.0 M,2.0 M,3.0 M}, minor ytick={0.2,0.4,0.6,0.8,1.2,1.4,1.6,1.8,2.2,2.4,2.6,2.8,3.2,3.4}]
\rrdplot{\LgD}{\LgU}
\end{axis}

% ---------------- right column ----------------
\begin{axis}[rrdR, at={(369.25pt,-60.5pt)}, height=41.85pt, ymin=4.8, ymax=89.5,
  ytick={20,40,60,80}, yticklabels={20 M,40 M,60 M,80 M}, minor ytick={5,10,15,25,30,35,45,50,55,65,70,75,85}]
\rrdplot{\RaD}{\RaU}
\end{axis}
\begin{axis}[rrdR, at={(369.25pt,-157.85pt)}, height=43.35pt, ymin=0, ymax=25.5,
  ytick={0,10,20}, yticklabels={0,10 M,20 M}, minor ytick={2,4,6,8,12,14,16,18,22,24}]
\rrdplot{\RbD}{\RbU}
\end{axis}
\begin{axis}[rrdR, at={(369.25pt,-252.15pt)}, height=43pt, ymin=0.9, ymax=51,
  ytick={10,20,30,40,50}, yticklabels={10 M,20 M,30 M,40 M,50 M}, minor ytick={5,15,25,35,45}]
\rrdplot{\RcD}{\RcU}
\end{axis}
\begin{axis}[rrdR, at={(369.25pt,-347.85pt)}, height=44.2pt, ymin=0.85, ymax=63.1,
  ytick={10,20,30,40,50,60}, yticklabels={10 M,20 M,30 M,40 M,50 M,60 M}, minor ytick={5,15,25,35,45,55}]
\rrdplot{\RdD}{\RdU}
\end{axis}
\begin{axis}[rrdR, at={(369.25pt,-446pt)}, height=43pt, ymin=3.1, ymax=60.9,
  ytick={10,20,30,40,50,60}, yticklabels={10 M,20 M,30 M,40 M,50 M,60 M}, minor ytick={5,15,25,35,45,55}]
\rrdplot{\ReD}{\ReU}
\end{axis}
\begin{axis}[rrdR, at={(369.25pt,-541.65pt)}, height=44.15pt, ymin=0.38, ymax=20.8,
  ytick={5,10,15,20}, yticklabels={5 M,10 M,15 M,20 M}, minor ytick={1,2,3,4,6,7,8,9,11,12,13,14,16,17,18,19}]
\rrdplot{\RfD}{\RfU}
\end{axis}
\begin{axis}[rrdR, at={(369.25pt,-643.35pt)}, height=44.2pt, ymin=0, ymax=3.03,
  ytick={0,1,2,3}, yticklabels={0.0,1.0 M,2.0 M,3.0 M}, minor ytick={0.2,0.4,0.6,0.8,1.2,1.4,1.6,1.8,2.2,2.4,2.6,2.8}]
\rrdplot{\RgD}{\RgU}
\end{axis}

% ---------------- texts ----------------
\begin{scope}[x=0.5pt,y=-0.5pt]
\ttlL{19}\ttlL{216}\ttlL{404}\ttlL{597}\ttlL{793}\ttlL{985}\ttlL{1186}
\ttlR{20}\ttlR{214.3}\ttlR{403.3}\ttlR{594.7}\ttlR{790}\ttlR{981.7}\ttlR{1185}
\ylab{20.5}{85}\ylab{20.5}{281.7}\ylab{20.5}{470}\ylab{20.5}{663}\ylab{20.5}{858.3}\ylab{20.5}{1050.3}\ylab{20.5}{1251.5}
\ylab{685.6}{79.2}\ylab{685.6}{272.4}\ylab{685.6}{461.3}\ylab{685.6}{651.5}\ylab{685.6}{849}\ylab{685.6}{1039.2}\ylab{685.6}{1242.5}
\wm{660}{10.2}\wm{660}{205.2}\wm{660}{395.2}\wm{660}{588.2}\wm{660}{783.2}\wm{660}{975.2}\wm{660}{1175.2}
\wm{1325}{11.5}\wm{1325}{205.8}\wm{1325}{395.2}\wm{1325}{586.5}\wm{1325}{781.5}\wm{1325}{973.5}\wm{1325}{1176.5}
\cname{1306}{22}{ENTEL}
\cname{1308}{216.5}{COMTECO}
\cname{1302}{405.8}{TELECEL}
\cname{1307}{596.7}{COTAS}
\cname{1305}{793.8}{AXS}
\cname{1312.6}{984.5}{NUEVATEL}
\cname{1306}{1189.7}{COTEL}
\legL{158.3}{dlarea}{DOWNLOAD}{51.85 Mbps}{33.14 Mbps}{81.81 Mbps}
\legL{170.7}{ularea}{UPLOAD}{55.38 Mbps}{36.18 Mbps}{88.09 Mbps}
\legL{354.3}{dlarea}{DOWNLOAD}{16.73 Mbps}{10.50 Mbps}{22.43 Mbps}
\legL{366.7}{ularea}{UPLOAD}{10.37 Mbps}{8.50 Mbps}{17.32 Mbps}
\legL{543.3}{dlarea}{DOWNLOAD}{29.39 Mbps}{22.51 Mbps}{48.84 Mbps}
\legL{555.7}{ularea}{UPLOAD}{11.13 Mbps}{7.24 Mbps}{17.96 Mbps}
\legL{736.3}{dlarea}{DOWNLOAD}{9.51 Mbps}{5.86 Mbps}{18.31 Mbps}
\legL{748.7}{ularea}{UPLOAD}{37.17 Mbps}{20.33 Mbps}{49.33 Mbps}
\legL{931.3}{dlarea}{DOWNLOAD}{28.57 Mbps}{17.98 Mbps}{47.39 Mbps}
\legL{943.7}{ularea}{UPLOAD}{28.84 Mbps}{19.25 Mbps}{56.34 Mbps}
\legL{1123.3}{dlarea}{DOWNLOAD}{6.12 Mbps}{5.05 Mbps}{11.39 Mbps}
\legL{1135.7}{ularea}{UPLOAD}{5.18 Mbps}{4.27 Mbps}{11.39 Mbps}
\legL{1325}{dlarea}{DOWNLOAD}{1.33 Mbps}{889.14 kbps}{3.36 Mbps}
\legL{1336.7}{ularea}{UPLOAD}{523.82 kbps}{177.27 kbps}{1.05 Mbps}
\legR{142.7}{dlarea}{DOWNLOAD}{38.04 Mbps}{27.22 Mbps}{82.07 Mbps}
\legR{154.7}{ularea}{UPLOAD}{38.44 Mbps}{25.82 Mbps}{86.59 Mbps}
\legR{337}{dlarea}{DOWNLOAD}{11.90 Mbps}{8.33 Mbps}{20.85 Mbps}
\legR{349.3}{ularea}{UPLOAD}{9.18 Mbps}{6.39 Mbps}{15.99 Mbps}
\legR{526}{dlarea}{DOWNLOAD}{24.34 Mbps}{17.01 Mbps}{46.08 Mbps}
\legR{538.3}{ularea}{UPLOAD}{8.56 Mbps}{5.77 Mbps}{21.97 Mbps}
\legR{718.3}{dlarea}{DOWNLOAD}{5.59 Mbps}{4.41 Mbps}{15.97 Mbps}
\legR{730.3}{ularea}{UPLOAD}{26.23 Mbps}{17.53 Mbps}{55.32 Mbps}
\legR{913.3}{dlarea}{DOWNLOAD}{17.10 Mbps}{13.12 Mbps}{45.14 Mbps}
\legR{925.3}{ularea}{UPLOAD}{16.01 Mbps}{15.71 Mbps}{50.87 Mbps}
\legR{1105.3}{dlarea}{DOWNLOAD}{4.67 Mbps}{3.98 Mbps}{10.52 Mbps}
\legR{1117.3}{ularea}{UPLOAD}{3.94 Mbps}{3.48 Mbps}{10.19 Mbps}
\legR{1307.7}{dlarea}{DOWNLOAD}{876.43 kbps}{852.48 kbps}{2.81 Mbps}
\legR{1320}{ularea}{UPLOAD}{137.36 kbps}{229.72 kbps}{733.03 kbps}
\end{scope}
\end{tikzpicture}
\end{document}
